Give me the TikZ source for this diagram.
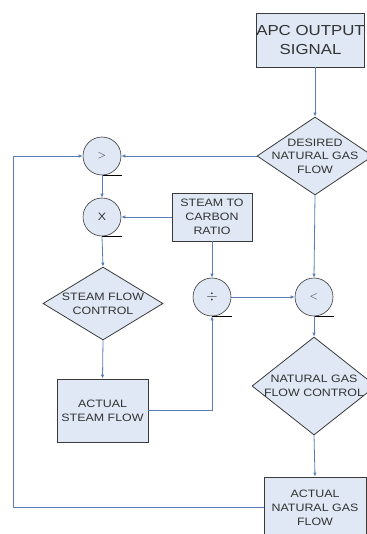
\documentclass[tikz,border=0pt]{standalone}
\usepackage{fontspec}
\setmainfont[FakeStretch=1.16]{Liberation Sans}
\usetikzlibrary{shapes.geometric,arrows.meta}
\definecolor{linec}{HTML}{5A7DBA}
\definecolor{fillc}{HTML}{DFE8F4}
\definecolor{edgec}{HTML}{3A3A3A}
\begin{document}
\begin{tikzpicture}[x=1pt,y=-1pt,
  txt/.style={font=\fontsize{10.7}{14}\selectfont,align=center,text=black!80},
  box/.style={draw=edgec,fill=fillc,line width=0.8pt,rectangle,inner sep=0pt,txt},
  dia/.style={draw=edgec,fill=fillc,line width=0.8pt,diamond,inner sep=0pt},
  junc/.style={draw=edgec,fill=fillc,line width=0.6pt,circle,minimum size=38pt,inner sep=0pt,txt},
  arr/.style={draw=linec,line width=0.8pt,-{Latex[length=4pt,width=3.5pt]}},
  uline/.style={draw=black,line width=0.8pt}]
\useasboundingbox (0,0) rectangle (366,534);
% nodes
\node[box,minimum width=107pt,minimum height=54pt,font=\fontsize{14.5}{18.5}\selectfont] (apc) at (310.5,40) {APC OUTPUT\\SIGNAL};
\node[dia,minimum width=116pt,minimum height=78pt,label={[txt,font=\fontsize{10.7}{13.5}\selectfont]center:DESIRED\\NATURAL GAS\\FLOW}] (d) at (315,156) {};
\node[junc] (gt) at (102,156) {$>$};
\node[junc] (mul) at (102,217) {X};
\node[box,minimum width=80pt,minimum height=48pt] (ratio) at (212,217) {STEAM TO\\CARBON\\RATIO};
\node[dia,minimum width=120pt,minimum height=73pt,label={[txt]center:STEAM FLOW\\CONTROL}] (sfc) at (103,303.5) {};
\node[junc,font=\fontsize{15}{15}\selectfont] (div) at (212,297) {$\div$};
\node[junc] (lt) at (314,297) {$<$};
\node[box,minimum width=91pt,minimum height=63pt] (asf) at (102.5,410.5) {ACTUAL\\STEAM FLOW};
\node[dia,minimum width=124pt,minimum height=98pt,label={[txt]center:NATURAL GAS\\FLOW CONTROL}] (ngc) at (314,386) {};
\node[box,minimum width=102pt,minimum height=61pt] (ang) at (315,507.5) {ACTUAL\\NATURAL GAS\\FLOW};
\coordinate (fbl) at (13,0);
% underlines
\draw[uline] (gt.south) -- ++(20,0);
\draw[uline] (mul.south) -- ++(20,0);
\draw[uline] (div.south) -- ++(20,0);
\draw[uline] (lt.south) -- ++(20,0);
% connectors
\draw[arr] (apc.south -| d.north) -- (d.north);
\draw[arr] (d.west) -- (gt.east);
\draw[arr] (d.south) -- (lt.north);
\draw[arr] (gt.south) -- (mul.north);
\draw[arr] (ratio.west) -- (mul.east);
\draw[arr] (ratio.south) -- (div.north);
\draw[arr] (mul.south) -- (sfc.north);
\draw[arr] (sfc.south) -- (asf.north);
\draw[arr] (asf.east) -| (div.south);
\draw[arr] (div.east) -- (lt.west);
\draw[arr] (lt.south) -- (ngc.north);
\draw[arr] (ngc.south) -- (ang.north);
\draw[arr] (ang.west) -| (fbl |- gt.west) -- (gt.west);
\end{tikzpicture}
\end{document}
